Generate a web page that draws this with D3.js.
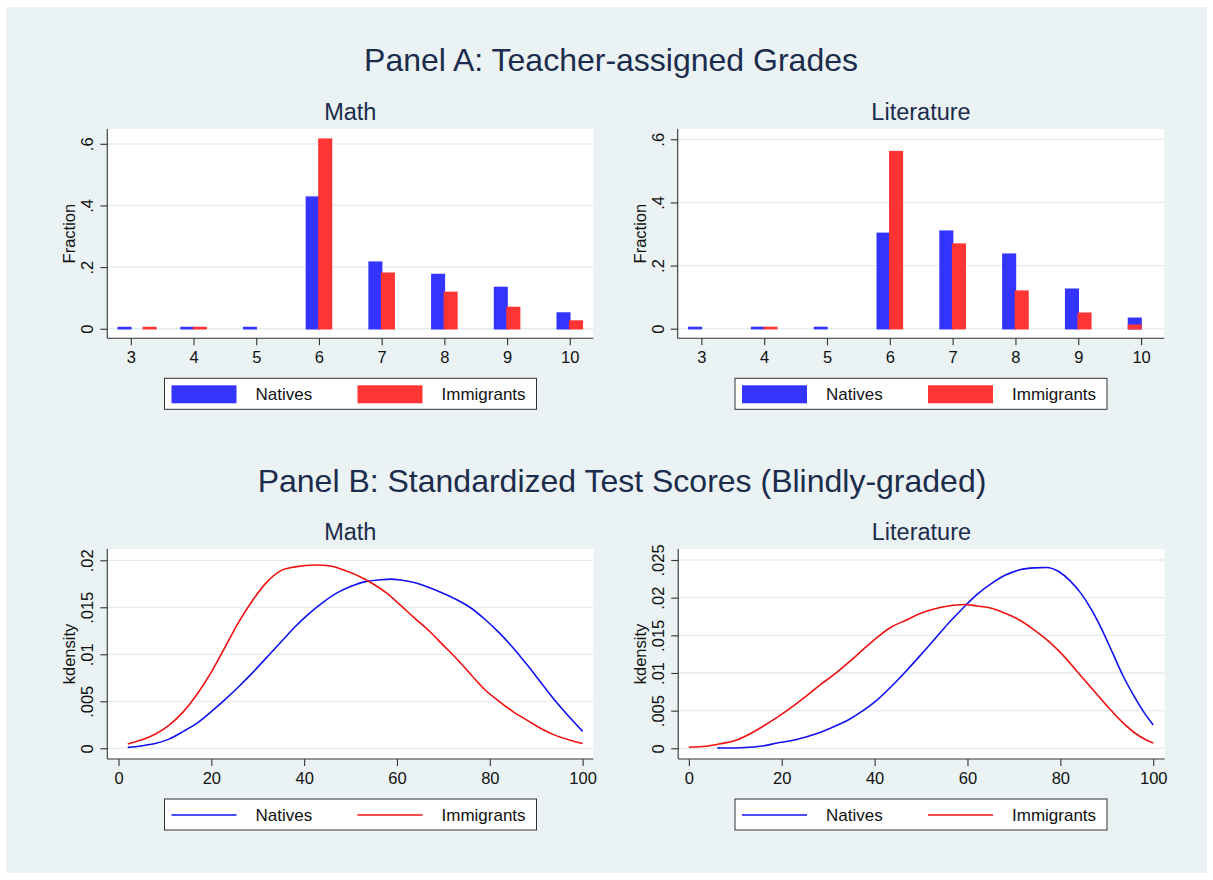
<!DOCTYPE html>
<html>
<head>
<meta charset="utf-8">
<script src="https://cdn.jsdelivr.net/npm/d3@7/dist/d3.min.js"></script>
<style>
  body { margin: 0; background: #fff; }
  svg text { font-family: Helvetica, Arial, "Liberation Sans", sans-serif; }
</style>
</head>
<body>
<div id="chart"></div>
<script>
// grades and histogram fractions (bin left edge, bin width 0.2)
var grades = [3, 4, 5, 6, 7, 8, 9, 10];
var binWidth = 0.2;
var mathNatX = [2.8, 3.8, 4.8, 5.8, 6.8, 7.8, 8.8, 9.8];
var mathNatY = [0.004, 0.004, 0.004, 0.427, 0.216, 0.176, 0.134, 0.051];
var mathImmX = [3.2, 4, 6, 7, 8, 9, 10];
var mathImmY = [0.004, 0.004, 0.615, 0.180, 0.118, 0.069, 0.025];
var litNatX = [2.8, 3.8, 4.8, 5.8, 6.8, 7.8, 8.8, 9.8];
var litNatY = [0.004, 0.004, 0.004, 0.302, 0.309, 0.236, 0.125, 0.033];
var litImmX = [4, 6, 7, 8, 9, 9.8];
var litImmY = [0.004, 0.561, 0.268, 0.119, 0.049, 0.011];

// kernel densities of test scores
var mathNatScore = [2, 4.9, 7.9, 11, 14, 17, 20, 23, 26, 29, 32, 35, 38, 41, 44, 47, 50, 53, 56, 58.6, 60.8, 63.9, 66.9, 69.9, 72.9, 76, 79, 82, 85, 88, 91, 94, 97, 100];
var mathNatDens = [0.0001, 0.00025, 0.0005, 0.001, 0.0018, 0.0027, 0.0039, 0.0052, 0.0066, 0.0081, 0.0097, 0.0113, 0.0129, 0.0143, 0.0155, 0.0165, 0.0172, 0.0177, 0.0179, 0.0180, 0.0179, 0.0176, 0.0171, 0.0165, 0.0158, 0.0149, 0.0137, 0.0123, 0.0107, 0.0089, 0.0070, 0.0051, 0.0034, 0.0018];
var mathImmScore = [2, 4.9, 7.9, 11, 14, 17, 20, 23, 26, 29, 32, 35, 38, 42.7, 45.7, 48.8, 51.8, 54.8, 57.8, 60.8, 63.9, 66.9, 69.9, 72.9, 76, 79, 82, 85, 88, 91, 94, 97, 100];
var mathImmDens = [0.00046, 0.00088, 0.0015, 0.0025, 0.0039, 0.0058, 0.0081, 0.0108, 0.0135, 0.0158, 0.0177, 0.0189, 0.0193, 0.0195, 0.0194, 0.0189, 0.0183, 0.0175, 0.0165, 0.0152, 0.0138, 0.0125, 0.0110, 0.0095, 0.0078, 0.0062, 0.0050, 0.0039, 0.0030, 0.0021, 0.0014, 0.0009, 0.0005];
var litNatScore = [6.1, 9.8, 12.8, 15.9, 19, 22, 25.2, 28.2, 31.3, 34.4, 37.5, 40.5, 43.6, 46.7, 49.8, 52.8, 55.9, 59, 62, 65.2, 68.2, 71.3, 74.4, 77, 79.8, 82, 84.4, 86.7, 89, 91.3, 93.6, 95.9, 98.2, 100];
var litNatDens = [0.00004, 0.00005, 0.00013, 0.0003, 0.0007, 0.001, 0.0015, 0.0021, 0.0029, 0.0038, 0.005, 0.0064, 0.0082, 0.0102, 0.0123, 0.0144, 0.0166, 0.0186, 0.0204, 0.0219, 0.0230, 0.0237, 0.02395, 0.0240, 0.0234, 0.0223, 0.0206, 0.0184, 0.0157, 0.0126, 0.0095, 0.0069, 0.0046, 0.0031];
var litImmScore = [0, 3.6, 6.7, 9.8, 12.8, 15.9, 19, 22, 25.2, 28.2, 31.3, 34.4, 37.5, 40.5, 43.6, 46.7, 49.8, 52.8, 55.9, 59.4, 62, 65.2, 68.2, 71.3, 74.4, 77.5, 80.5, 83.6, 86.7, 89.8, 92.8, 95.9, 98.2, 100];
var litImmDens = [0.00013, 0.00027, 0.0006, 0.001, 0.0018, 0.0029, 0.0041, 0.0054, 0.0069, 0.0084, 0.0098, 0.0114, 0.0131, 0.0147, 0.0161, 0.0170, 0.0179, 0.0185, 0.0189, 0.0191, 0.0189, 0.0186, 0.0179, 0.0170, 0.0157, 0.0142, 0.0124, 0.0102, 0.0080, 0.0058, 0.0038, 0.0021, 0.0012, 0.0007];

var topYTicks = [0, 0.2, 0.4, 0.6];
var topYLabels = ["0", ".2", ".4", ".6"];
var scoreTicks = [0, 20, 40, 60, 80, 100];
var mathYTicks = [0, 0.005, 0.01, 0.015, 0.02];
var mathYLabels = ["0", ".005", ".01", ".015", ".02"];
var litYTicks = [0, 0.005, 0.01, 0.015, 0.02, 0.025];
var litYLabels = ["0", ".005", ".01", ".015", ".02", ".025"];
var seriesNames = ["Natives", "Immigrants"];

var width = 1213, height = 880;
var barBlue = "#3434ff", barRed = "#ff3434";
var lineBlue = "#1010f0", lineRed = "#f01010";
var titleColor = "#1c2c4c";
var gridColor = "#e3ecef";

var svg = d3.select("#chart").append("svg")
    .attr("width", width)
    .attr("height", height);

svg.append("rect")
    .attr("x", 6).attr("y", 7)
    .attr("width", 1201).attr("height", 866)
    .attr("fill", "#eaf2f3");

function title(txt, x, y, size) {
    svg.append("text")
        .attr("x", x).attr("y", y)
        .attr("text-anchor", "middle")
        .attr("font-size", size)
        .attr("fill", titleColor)
        .text(txt);
}

title("Panel A: Teacher-assigned Grades", 611, 71, 32);
title("Panel B: Standardized Test Scores (Blindly-graded)", 622, 492, 32);

// frame: plot box, gridlines, axes; returns scales
function frame(box, xDom, yDom, xTicks, yTicks, yLabels, yTitle, sub) {
    var x = d3.scaleLinear().domain(xDom).range([box.left, box.right]);
    var y = d3.scaleLinear().domain(yDom).range([box.bottom, box.top]);
    var g = svg.append("g");

    g.append("rect")
        .attr("x", box.left).attr("y", box.top)
        .attr("width", box.right - box.left).attr("height", box.bottom - box.top)
        .attr("fill", "#fff");

    g.selectAll(".grid").data(yTicks).enter().append("line")
        .attr("x1", box.left).attr("x2", box.right)
        .attr("y1", function (d) { return y(d) }).attr("y2", function (d) { return y(d) })
        .attr("stroke", gridColor).attr("stroke-width", 1.3);

    var xa = g.append("g")
        .attr("transform", "translate(0," + box.bottom + ")")
        .call(d3.axisBottom(x).tickValues(xTicks).tickSize(7).tickSizeOuter(0).tickPadding(6));
    xa.select(".domain").attr("d", "M" + box.left + ",0H" + box.right);
    xa.selectAll("text").attr("font-size", 16.5).attr("font-family", null).attr("fill", "#111");

    var ya = g.append("g")
        .attr("transform", "translate(" + box.left + ",0)")
        .call(d3.axisLeft(y).tickValues(yTicks).tickSize(7).tickSizeOuter(0)
            .tickFormat(function (d, i) { return yLabels[i] }));
    ya.select(".domain").attr("d", "M0," + box.top + "V" + box.bottom);
    ya.selectAll("text")
        .attr("font-size", 16.5).attr("font-family", null).attr("fill", "#111")
        .attr("x", null).attr("dy", null)
        .attr("text-anchor", "middle")
        .attr("transform", "translate(-14,0) rotate(-90)");
    g.selectAll(".domain, .tick line").attr("stroke", "#333").attr("stroke-width", 1.1);

    g.append("text")
        .attr("transform", "translate(" + (box.left - 32) + "," + ((box.top + box.bottom) / 2) + ") rotate(-90)")
        .attr("text-anchor", "middle")
        .attr("font-size", 16.5)
        .attr("fill", "#111")
        .text(yTitle);

    svg.append("text")
        .attr("x", (box.left + box.right) / 2).attr("y", box.top - 9)
        .attr("text-anchor", "middle")
        .attr("font-size", 23.5)
        .attr("fill", titleColor)
        .text(sub);

    return { x: x, y: y, g: g };
}

function bars(f, xs, ys, color) {
    var data = xs.map(function (d, i) { return { x: d, v: ys[i] } });
    f.g.append("g").selectAll("rect").data(data).enter().append("rect")
        .attr("x", function (d) { return f.x(d.x) })
        .attr("width", function (d) { return f.x(d.x + binWidth) - f.x(d.x) })
        .attr("y", function (d) { return f.y(d.v) })
        .attr("height", function (d) { return f.y(0) - f.y(d.v) })
        .attr("fill", color)
        .attr("stroke", color)
        .attr("stroke-width", 1.5);
}

function curve(f, xs, ys, color) {
    var line = d3.line()
        .x(function (d, i) { return f.x(xs[i]) })
        .y(function (d) { return f.y(d) })
        .curve(d3.curveMonotoneX);
    f.g.append("path")
        .datum(ys)
        .attr("d", line)
        .attr("fill", "none")
        .attr("stroke", color)
        .attr("stroke-width", 1.6);
}

function legend(cx, top, kind) {
    var g = svg.append("g").attr("transform", "translate(" + (cx - 186) + "," + top + ")");
    g.append("rect")
        .attr("x", 0).attr("y", 0).attr("width", 372).attr("height", 31)
        .attr("fill", "#fff").attr("stroke", "#333").attr("stroke-width", 1);
    var cols = kind == "bar" ? [barBlue, barRed] : [lineBlue, lineRed];
    var offs = [7, 193];
    seriesNames.forEach(function (name, i) {
        if (kind == "bar") {
            g.append("rect")
                .attr("x", offs[i]).attr("y", 7).attr("width", 65).attr("height", 18)
                .attr("fill", cols[i]);
        } else {
            g.append("line")
                .attr("x1", offs[i]).attr("x2", offs[i] + 65)
                .attr("y1", 16).attr("y2", 16)
                .attr("stroke", cols[i]).attr("stroke-width", 1.6);
        }
        g.append("text")
            .attr("x", offs[i] + 84).attr("y", 22)
            .attr("font-size", 17)
            .attr("fill", "#111")
            .text(name);
    });
}

var boxTL = { left: 107.3, right: 593.3, top: 129, bottom: 338.3 };
var boxTR = { left: 677.7, right: 1164.3, top: 129, bottom: 338.3 };
var boxBL = { left: 107.3, right: 593.3, top: 549, bottom: 759 };
var boxBR = { left: 678.2, right: 1164.6, top: 549, bottom: 759 };

var f1 = frame(boxTL, [2.625, 10.375], [-0.031, 0.648], grades, topYTicks, topYLabels, "Fraction", "Math");
bars(f1, mathNatX, mathNatY, barBlue);
bars(f1, mathImmX, mathImmY, barRed);

var f2 = frame(boxTR, [2.623, 10.37], [-0.0304, 0.6326], grades, topYTicks, topYLabels, "Fraction", "Literature");
bars(f2, litNatX, litNatY, barBlue);
bars(f2, litImmX, litImmY, barRed);

var f3 = frame(boxBL, [-2.41, 102.3], [-0.00114, 0.0212], scoreTicks, mathYTicks, mathYLabels, "kdensity", "Math");
curve(f3, mathNatScore, mathNatDens, lineBlue);
curve(f3, mathImmScore, mathImmDens, lineRed);

var f4 = frame(boxBR, [-2.3, 102.45], [-0.00142, 0.02646], scoreTicks, litYTicks, litYLabels, "kdensity", "Literature");
curve(f4, litNatScore, litNatDens, lineBlue);
curve(f4, litImmScore, litImmDens, lineRed);

legend(350.5, 378.3, "bar");
legend(921, 378.3, "bar");
legend(350.5, 799, "line");
legend(921, 799, "line");
</script>
</body>
</html>
